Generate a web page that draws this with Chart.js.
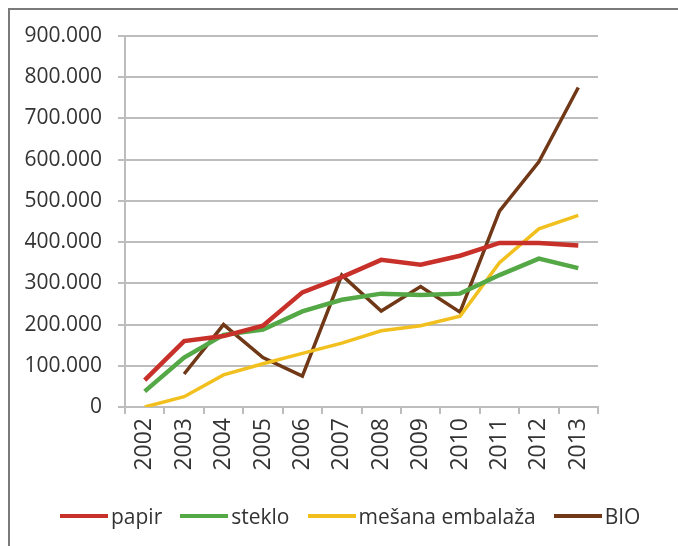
<!DOCTYPE html>
<html>
<head>
<meta charset="utf-8">
<script src="https://cdn.jsdelivr.net/npm/chart.js@4/dist/chart.umd.min.js"></script>
<style>
  html, body { margin: 0; padding: 0; background: #fff; }
  #wrap { position: relative; width: 678px; height: 546px; overflow: hidden; }
  #frame { position: absolute; left: 8px; top: 8px; width: 700px; height: 600px; border: 2px solid #7a7a7a; }
  #myChart { position: absolute; left: 0; top: 0; }
  #legend { position: absolute; left: 60px; top: 502px; display: flex; align-items: center; gap: 18px;
            font-family: "Open Sans", sans-serif; font-size: 21px; color: #333; white-space: nowrap; }
  .item { display: flex; align-items: center; gap: 3px; }
  .swatch { width: 48px; height: 4px; }
</style>
</head>
<body>
<div id="wrap">
  <div id="frame"></div>
  <canvas id="myChart" width="678" height="546"></canvas>
  <div id="legend"></div>
</div>
<script>
// years on the x axis
const years = ['2002','2003','2004','2005','2006','2007','2008','2009','2010','2011','2012','2013'];

// values
const papir = [65000, 160000, 172000, 197000, 278000, 315000, 357000, 345000, 367000, 398000, 398000, 392000];
const steklo = [38000, 120000, 175000, 188000, 232000, 260000, 275000, 272000, 275000, 320000, 360000, 337000];
const mesana = [0, 25000, 78000, 105000, 130000, 155000, 185000, 197000, 220000, 350000, 432000, 465000];
const bio = [null, 80000, 200000, 120000, 75000, 320000, 233000, 292000, 230000, 475000, 595000, 775000];

const names = ['papir', 'steklo', 'mešana embalaža', 'BIO'];
const colors = ['rgb(200,48,42)', 'rgb(84,168,70)', 'rgb(242,192,30)', 'rgb(112,56,22)'];
const widths = [4.5, 4.5, 3.5, 3.5];

const yTicks = [0, 100000, 200000, 300000, 400000, 500000, 600000, 700000, 800000, 900000];

function fmt(v) {
  return v.toString().replace(/\B(?=(\d{3})+(?!\d))/g, '.');
}

const series = [papir, steklo, mesana, bio];
const datasets = [];
for (let i = 0; i < series.length; i++) {
  datasets.push({
    label: names[i],
    data: series[i],
    borderColor: colors[i],
    backgroundColor: colors[i],
    borderWidth: widths[i],
    pointRadius: 0,
    tension: 0
  });
}

const fontFam = '"Open Sans", sans-serif';
const grey = '#bdbdbd';
const textCol = '#333';

const config = {
  type: 'line',
  data: { labels: years, datasets: datasets },
  options: {
    responsive: false,
    animation: false,
    layout: { padding: { left: 10, right: 80, top: 36, bottom: 48 } },
    plugins: {
      tooltip: { enabled: false },
      legend: { display: false }
    },
    scales: {
      x: {
        offset: true,
        grid: { display: true, drawOnChartArea: false, offset: true, color: grey, lineWidth: 2, tickLength: 7 },
        border: { display: true, color: grey, width: 2 },
        ticks: {
          color: textCol,
          font: { family: fontFam, size: 23 },
          minRotation: 90,
          maxRotation: 90,
          padding: 4,
          autoSkip: false
        },
        afterFit: function(scale) { scale.height = 91; }
      },
      y: {
        min: 0,
        max: 900000,
        afterBuildTicks: function(scale) { scale.ticks = yTicks.map(function(v) { return { value: v }; }); },
        grid: { color: grey, lineWidth: 2, tickLength: 7 },
        border: { display: true, color: grey, width: 2 },
        ticks: {
          color: textCol,
          font: { family: fontFam, size: 21 },
          padding: 16,
          callback: function(v) { return fmt(v); }
        },
        afterFit: function(scale) { scale.width = 115; }
      }
    }
  }
};

const myChart = new Chart(document.getElementById('myChart'), config);

// legend as html text, built from the same names and colours
const legendBox = document.getElementById('legend');
for (let i = 0; i < names.length; i++) {
  const item = document.createElement('div');
  item.className = 'item';
  const sw = document.createElement('div');
  sw.className = 'swatch';
  sw.style.background = colors[i];
  const txt = document.createElement('span');
  txt.textContent = names[i];
  item.appendChild(sw);
  item.appendChild(txt);
  legendBox.appendChild(item);
}
</script>
</body>
</html>
